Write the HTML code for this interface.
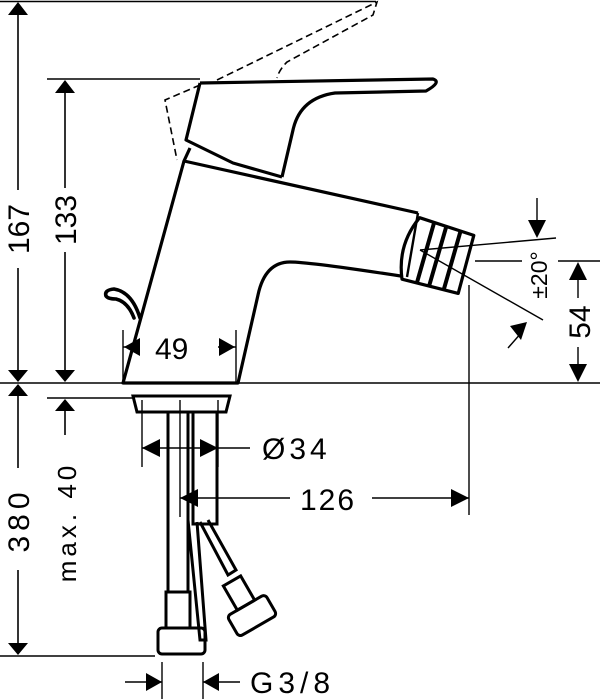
<!DOCTYPE html>
<html><head><style>html,body{margin:0;padding:0;background:#fff}svg{display:block}</style></head>
<body>
<svg width="600" height="699" viewBox="0 0 600 699" xmlns="http://www.w3.org/2000/svg" font-family="Liberation Sans, sans-serif">
<g stroke="#000" fill="none" stroke-width="1.6">
<line x1="0" y1="1.5" x2="376" y2="1.5"/>
<line x1="47" y1="79" x2="200" y2="79"/>
<line x1="0" y1="383" x2="600" y2="383"/>
<line x1="47" y1="398" x2="135" y2="398"/>
<line x1="0" y1="656" x2="155" y2="656"/>
<line x1="18" y1="10" x2="18" y2="190"/><line x1="18" y1="268" x2="18" y2="375"/>
<line x1="65" y1="88" x2="65" y2="188"/><line x1="65" y1="252" x2="65" y2="375"/>
<line x1="18" y1="392" x2="18" y2="468"/><line x1="18" y1="570" x2="18" y2="648"/>
<line x1="65" y1="406" x2="65" y2="435"/>
</g>
<g fill="#000">
<polygon points="18,2 8,15 28,15"/><polygon points="18,382 8,370 28,370"/>
<polygon points="65,80 55,93 75,93"/><polygon points="65,382 55,370 75,370"/>
<polygon points="18,384 8,396 28,396"/><polygon points="18,655 8,643 28,643"/>
<polygon points="65,399 55,411 75,411"/>
</g>
<g font-size="30" fill="#000" text-anchor="middle">
<text transform="translate(29,229) rotate(-90)">167</text>
<text transform="translate(76,220) rotate(-90)">133</text>
<text transform="translate(29,520) rotate(-90)" letter-spacing="5">380</text>
<text transform="translate(76,522) rotate(-90)" font-size="26" letter-spacing="4">max. 40</text>
</g>
<g stroke="#000" fill="none" stroke-width="1.6" stroke-dasharray="7,4">
<path d="M217,80 L377,2 L373,15 L287,62 Q279,70 277,78"/>
<path d="M200,85 L165,100 L177,160"/>
</g>
<g stroke="#000" fill="none" stroke-width="3.2" stroke-linejoin="round">
<path d="M200,83 L433,79 Q442,82 426,91 L335,93 Q300,98 293,130 L282,177"/>
<path d="M200,83 L186,140 L233,163 L282,177"/>
<path d="M190,148 L184,161 L418,213"/>
<path d="M184,161 L123,383 L238,383 L258,295 Q265,262 290,262 Q310,262 407,277"/>
<path d="M140,318 Q132,292 114,289 Q104,290 106,296 Q108,299 116,299 Q128,302 134,318" stroke-width="3.6" stroke-linecap="round"/>
<path d="M419.6,217.7 L473.8,235.4 L458.2,293.4 L402,279.2 Q397.3,244.7 419.6,217.7 Z" fill="#fff"/>
<line x1="434" y1="223" x2="417" y2="282.5" stroke-width="4"/>
<line x1="446.3" y1="226.5" x2="429.1" y2="286" stroke-width="4"/>
<line x1="460.7" y1="230.6" x2="443.6" y2="290.2" stroke-width="4"/>
<line x1="418" y1="213" x2="407" y2="277" stroke-width="2.4"/>
</g>
<g stroke="#000" fill="none" stroke-width="3">
<path d="M133,396 L230,396 L226,412 L137,412 Z"/>
<rect x="168" y="412" width="20" height="180"/>
<rect x="193" y="412" width="24" height="112"/>
<path d="M188,520 L200,640 L206,640 L197,522"/>
<path d="M200,522 L228,575 L236,570 L208,520"/>
<rect x="166" y="592" width="24" height="36"/>
<rect x="158" y="628" width="47" height="26" rx="4"/>
<g transform="rotate(-30 243 600)"><rect x="233" y="578" width="20" height="28"/><rect x="221" y="606" width="44" height="24" rx="4"/></g>
</g>
<g stroke="#000" fill="none" stroke-width="1.4">
<line x1="180" y1="400" x2="180" y2="517"/>
<line x1="142" y1="400" x2="142" y2="467"/>
<line x1="218" y1="400" x2="218" y2="467"/>
<line x1="142" y1="448" x2="250" y2="448"/>
<line x1="180" y1="498" x2="290" y2="498"/><line x1="372" y1="498" x2="469" y2="498"/>
<line x1="469" y1="285" x2="469" y2="515"/>
<line x1="475" y1="261" x2="522" y2="261"/><line x1="558" y1="261" x2="600" y2="261"/>
<line x1="578" y1="270" x2="578" y2="298"/><line x1="578" y1="347" x2="578" y2="375"/>
<line x1="420" y1="250" x2="556" y2="238"/>
<line x1="420" y1="250" x2="543" y2="320"/>
<line x1="537" y1="198" x2="537" y2="230"/>
<line x1="508" y1="348" x2="522" y2="332"/>
<line x1="123" y1="330" x2="123" y2="383"/><line x1="236" y1="330" x2="236" y2="383"/>
<line x1="123" y1="347" x2="140" y2="347"/><line x1="218" y1="347" x2="236" y2="347"/>
<line x1="125" y1="682" x2="162" y2="682"/><line x1="203" y1="682" x2="240" y2="682"/>
<line x1="162" y1="662" x2="162" y2="699"/><line x1="203" y1="662" x2="203" y2="699"/>
</g>
<g fill="#000">
<polygon points="142,448 160,439 160,457"/><polygon points="218,448 200,439 200,457"/>
<polygon points="180,498 198,489 198,507"/><polygon points="469,498 451,489 451,507"/>
<polygon points="578,262 569,280 587,280"/><polygon points="578,382 569,364 587,364"/>
<polygon points="537,238 528,220 546,220"/><polygon points="527,322 510,326 521,340"/>
<polygon points="124,347 140,338 140,356"/><polygon points="235,347 219,338 219,356"/>
<polygon points="162,682 146,673 146,691"/><polygon points="203,682 219,673 219,691"/>
</g>
<g font-size="30" fill="#000">
<text x="155" y="359">49</text>
<text x="262" y="459" letter-spacing="4">Ø34</text>
<text x="300" y="510" letter-spacing="2">126</text>
<text x="250" y="693" letter-spacing="5">G3/8</text>
<text transform="translate(590,322) rotate(-90)" text-anchor="middle">54</text>
<text transform="translate(547,275) rotate(-90)" text-anchor="middle" font-size="23">±20°</text>
</g>
</svg>
</body></html>
